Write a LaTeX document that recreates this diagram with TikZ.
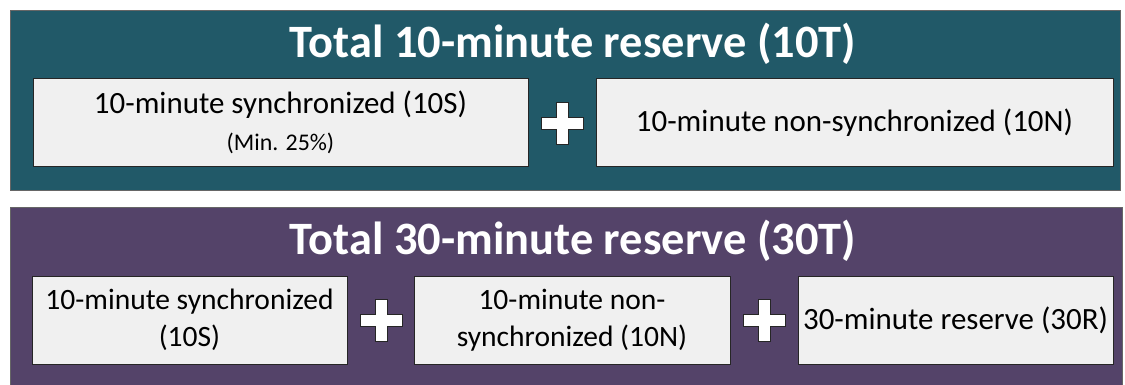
\documentclass[tikz,border=0pt]{standalone}
\usepackage{fontspec}
\setmainfont{Carlito}
\definecolor{tealpanel}{RGB}{33,89,104}
\definecolor{purplepanel}{RGB}{84,67,105}
\definecolor{partgray}{RGB}{240,240,240}
\newcommand{\plusat}[2]{%
  \draw [plussign] (#1,#2) ++(-6,-21) -- ++(12,0) -- ++(0,15) -- ++(15,0)
    -- ++(0,12) -- ++(-15,0) -- ++(0,15) -- ++(-12,0) -- ++(0,-15)
    -- ++(-15,0) -- ++(0,-12) -- ++(15,0) -- cycle;}
\begin{document}
\begin{tikzpicture}[x=0.025cm,y=-0.025cm,
  panel/.style={draw=black!60,line width=0.6pt},
  part/.style={draw=black!85,fill=partgray,line width=0.6pt,inner sep=0pt,
    align=center,minimum height=2.2cm,font=\fontsize{22}{25}\selectfont},
  heading/.style={text=white,anchor=base,font=\bfseries\fontsize{33}{38}\selectfont},
  plussign/.style={draw=black!85,fill=white,line width=0.6pt}]
\useasboundingbox (0,0) rectangle (1125,384);
% ten minute panel
\draw [panel,fill=tealpanel] (10,10) rectangle (1120,190);
\node (total10) [heading] at (573,57) {Total 10-minute reserve (10T)};
\node (sync10) [part,minimum width=12.375cm] at (280.5,122.5) {10-minute synchronized (10S)\\[1pt]
  {\fontsize{17}{20}\selectfont (Min. 25\%)}};
\node (nonsync10) [part,minimum width=12.925cm] at (854.5,122.5) {10-minute non-synchronized (10N)};
\plusat{562}{123}
% thirty minute panel
\draw [panel,fill=purplepanel] (10,207) rectangle (1122,400);
\node (total30) [heading] at (573,254) {Total 30-minute reserve (30T)};
\node (sync30) [part,minimum width=7.875cm,font=\fontsize{21}{26}\selectfont] at (189.5,320) {10-minute synchronized\\(10S)};
\node (nonsync30) [part,minimum width=7.9cm,font=\fontsize{21}{26}\selectfont] at (572,320) {10-minute non-\\synchronized (10N)};
\node (reserve30) [part,minimum width=7.875cm] at (955.5,320) {30-minute reserve (30R)};
\plusat{381}{320}
\plusat{764}{320}
\end{tikzpicture}
\end{document}
